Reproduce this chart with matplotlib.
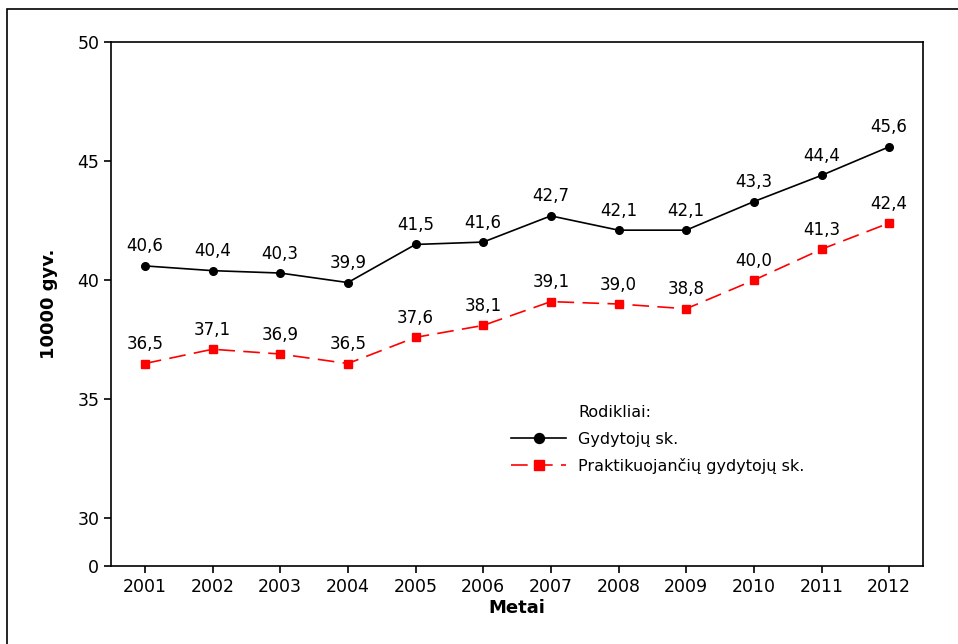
import matplotlib
matplotlib.use("Agg")
import matplotlib.pyplot as plt
from matplotlib.patches import Rectangle

years = [2001, 2002, 2003, 2004, 2005, 2006, 2007, 2008, 2009, 2010, 2011, 2012]
gydytoju = [40.6, 40.4, 40.3, 39.9, 41.5, 41.6, 42.7, 42.1, 42.1, 43.3, 44.4, 45.6]
praktikuojanciu = [36.5, 37.1, 36.9, 36.5, 37.6, 38.1, 39.1, 39.0, 38.8, 40.0, 41.3, 42.4]
ytick_vals = [28, 30, 35, 40, 45, 50]
ytick_labels = ["0", "30", "35", "40", "45", "50"]

plt.rcParams['font.family'] = ['DejaVu Sans']
fig = plt.figure(figsize=(9.58, 6.44), dpi=100)
fig.patches.append(Rectangle((7/958, -0.1), 2, 1 - 9/644 + 0.1, transform=fig.transFigure,
                             fill=False, edgecolor='black', linewidth=1.2))
ax = fig.add_axes([111/958, 1 - 566/644, (923 - 111)/958, (566 - 42)/644])

ax.plot(years, gydytoju, color='black', marker='o', markersize=5.5, linewidth=1.2,
        label='Gydytojų sk.')
ax.plot(years, praktikuojanciu, color='#ff0000', marker='s', markersize=5.5, linewidth=1.2,
        dashes=(10, 5), label='Praktikuojančių gydytojų sk.')

for x, v in zip(years, gydytoju):
    ax.annotate(f"{v:.1f}".replace('.', ','), (x, v), xytext=(0, 7.5), textcoords='offset points',
                ha='center', va='bottom', fontsize=12)
for x, v in zip(years, praktikuojanciu):
    ax.annotate(f"{v:.1f}".replace('.', ','), (x, v), xytext=(0, 7.5), textcoords='offset points',
                ha='center', va='bottom', fontsize=12)

ax.set_xlim(2000.5, 2012.5)
ax.set_ylim(28, 50)
ax.set_xticks(years)
ax.set_xticklabels([str(y) for y in years], fontsize=12.5)
ax.set_yticks(ytick_vals)
ax.set_yticklabels(ytick_labels, fontsize=12.5)
ax.tick_params(direction='out', length=5, width=1.2)
for s in ax.spines.values():
    s.set_linewidth(1.2)

ax.set_xlabel('Metai', fontsize=13, fontweight='bold', labelpad=2)
ax.set_ylabel('10000 gyv.', fontsize=13, fontweight='bold', labelpad=14)

leg = ax.legend(title='Rodikliai:', frameon=False, fontsize=11.5, title_fontsize=11.5,
                loc='upper left', bbox_to_anchor=(497/958, 1 - 391/644),
                bbox_transform=fig.transFigure, handlelength=3.4, handletextpad=0.8,
                labelspacing=0.7, alignment='left', markerscale=1.3)
leg.get_title().set_position((67, 0))

fig.savefig('out.png', dpi=100)
